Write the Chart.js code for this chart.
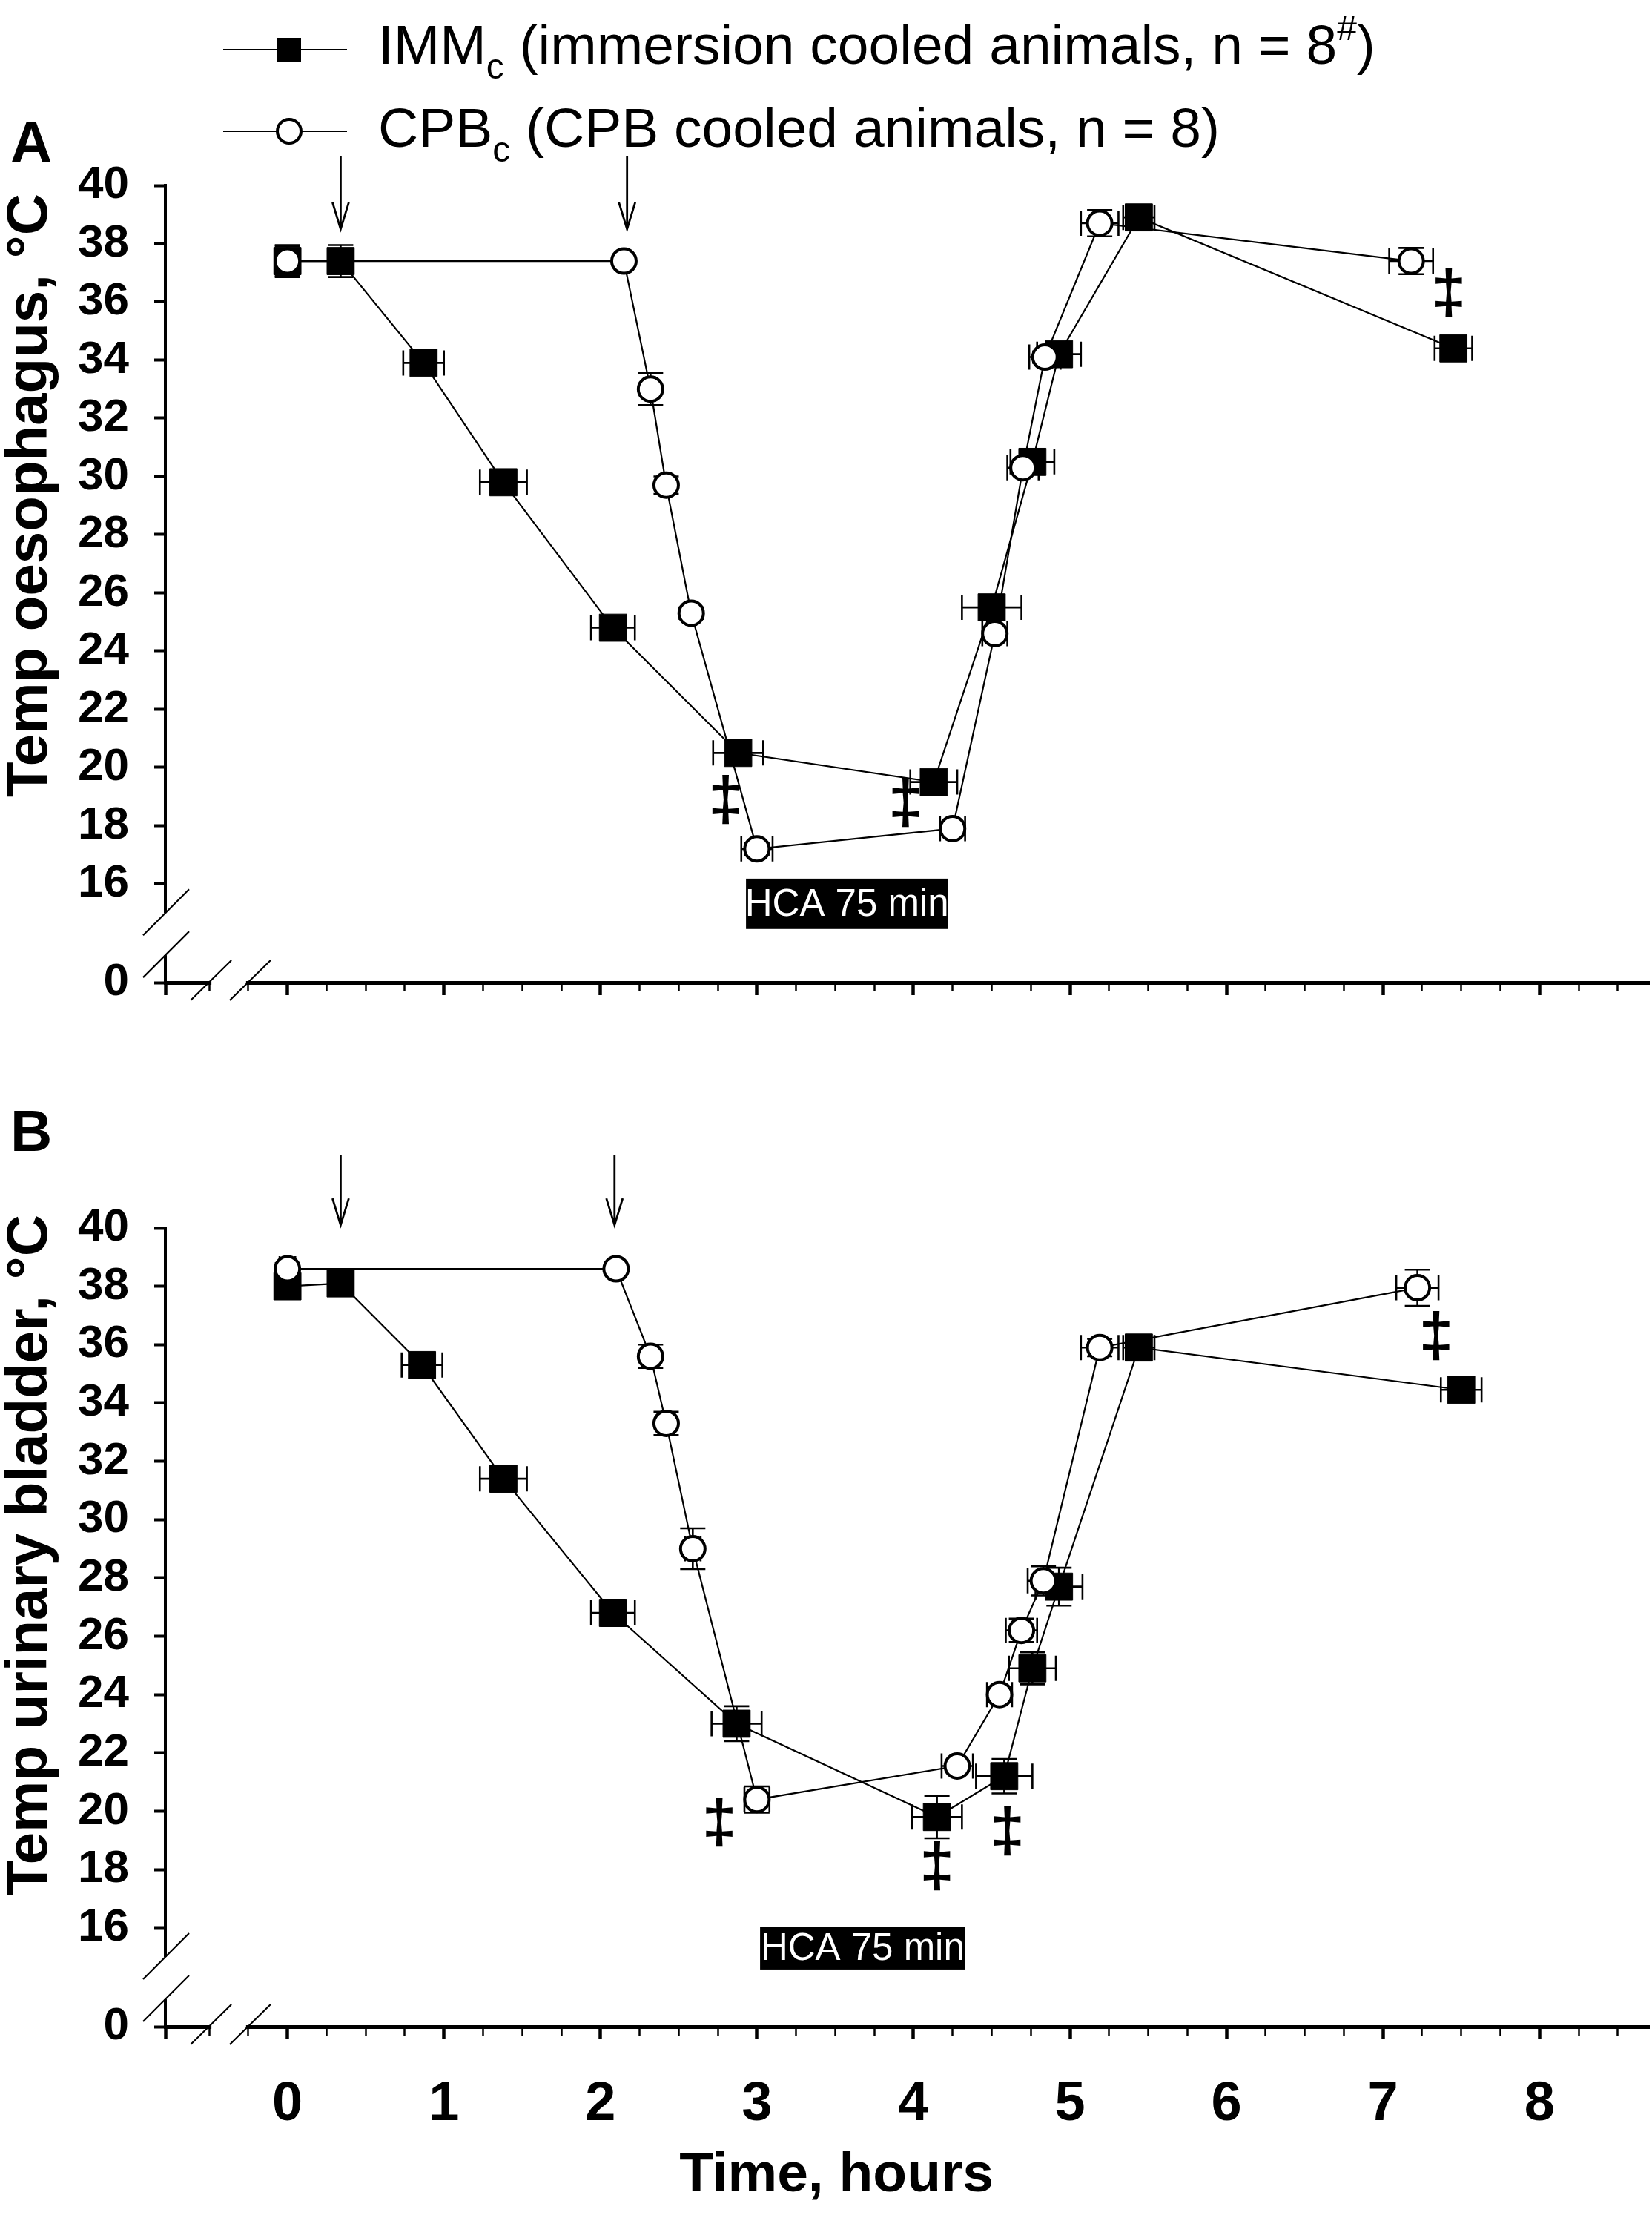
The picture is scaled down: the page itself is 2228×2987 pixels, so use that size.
<!DOCTYPE html>
<html>
<head>
<meta charset="utf-8">
<script src="https://cdn.jsdelivr.net/npm/chart.js@4.4.1/dist/chart.umd.min.js"></script>
<style>
  body { margin: 0; background: #fff; }
  canvas { position: absolute; left: 0; }
</style>
</head>
<body>
<canvas id="chartA" width="2228" height="1440" style="top:0;width:2228px;height:1440px"></canvas>
<canvas id="chartB" width="2228" height="1547" style="top:1440px;width:2228px;height:1547px"></canvas>
<script>
// # Tick labels
const xTickLabels = ["0", "1", "2", "3", "4", "5", "6", "7", "8"];
const yTickValues = [16, 18, 20, 22, 24, 26, 28, 30, 32, 34, 36, 38, 40];
const yBreakValue = 12.61; // the "0" tick sits here, below the axis break

// # Panel A - oesophagus
const timeImmA = [0, 0.34, 0.87, 1.38, 2.08, 2.88, 4.13, 4.5, 4.76, 4.93, 5.44, 7.45];
const tempImmA = [37.4, 37.4, 33.9, 29.8, 24.8, 20.5, 19.5, 25.5, 30.5, 34.2, 38.9, 34.4];
const xErrImmA = [0, 0, 0.13, 0.15, 0.14, 0.16, 0.15, 0.19, 0.14, 0.14, 0.1, 0.12];
const yErrImmA = [0.5, 0.55, 0.2, 0.2, 0.2, 0.2, 0.2, 0.2, 0.3, 0.3, 0.3, 0.2];

const timeCpbA = [0, 2.15, 2.32, 2.42, 2.58, 3.0, 4.25, 4.52, 4.7, 4.84, 5.19, 7.18];
const tempCpbA = [37.4, 37.4, 33.0, 29.7, 25.3, 17.2, 17.9, 24.6, 30.3, 34.1, 38.7, 37.4];
const xErrCpbA = [0.06, 0, 0.03, 0.03, 0.03, 0.1, 0.08, 0.08, 0.1, 0.1, 0.12, 0.14];
const yErrCpbA = [0.55, 0, 0.55, 0.3, 0.2, 0.2, 0.2, 0.2, 0.2, 0.2, 0.45, 0.45];

// # Panel B - urinary bladder
const timeImmB = [0, 0.34, 0.86, 1.38, 2.08, 2.87, 4.15, 4.58, 4.76, 4.93, 5.44, 7.5];
const tempImmB = [38.0, 38.1, 35.3, 31.4, 26.8, 23.0, 19.8, 21.2, 24.9, 27.7, 35.9, 34.45];
const xErrImmB = [0, 0, 0.13, 0.15, 0.14, 0.16, 0.16, 0.18, 0.15, 0.15, 0.1, 0.13];
const yErrImmB = [0.3, 0.3, 0.25, 0.3, 0.45, 0.6, 0.73, 0.59, 0.55, 0.65, 0.3, 0.2];

const timeCpbB = [0, 2.1, 2.32, 2.42, 2.59, 3.0, 4.28, 4.55, 4.69, 4.83, 5.19, 7.22];
const tempCpbB = [38.6, 38.6, 35.6, 33.3, 29.0, 20.4, 21.55, 24.0, 26.2, 27.9, 35.9, 37.95];
const xErrCpbB = [0.05, 0, 0.05, 0.05, 0.05, 0.08, 0.1, 0.08, 0.1, 0.1, 0.12, 0.135];
const yErrCpbB = [0.2, 0, 0.4, 0.4, 0.7, 0.45, 0.15, 0.2, 0.4, 0.5, 0.3, 0.62];

// # Annotations (in data units)
const daggersA = [[2.8, 18.78], [3.95, 18.68], [7.42, 36.2]];
const daggersB = [[2.76, 19.5], [4.15, 18.0], [4.6, 19.2], [7.34, 36.2]];
const arrowsA = [0.34, 2.17];
const arrowsB = [0.34, 2.09];

const FONT = '"Liberation Sans", Arial, sans-serif';

const toPoints = (xs, ys) => xs.map((x, i) => ({ x: x, y: ys[i] }));

// # Error bars, drawn under the markers
const drawErrorBars = (chart) => {
  const { ctx } = chart;
  const x = chart.scales.x, y = chart.scales.y;
  ctx.save();
  ctx.strokeStyle = "#000";
  ctx.lineWidth = 2.6;
  chart.data.datasets.forEach((ds) => {
    ds.data.forEach((p, i) => {
      const px = x.getPixelForValue(p.x);
      const py = y.getPixelForValue(p.y);
      const ex = ds.xErr[i], ey = ds.yErr[i];
      ctx.beginPath();
      if (ex > 0) {
        const l = x.getPixelForValue(p.x - ex), r = x.getPixelForValue(p.x + ex);
        ctx.moveTo(l, py); ctx.lineTo(r, py);
        ctx.moveTo(l, py - 17); ctx.lineTo(l, py + 17);
        ctx.moveTo(r, py - 17); ctx.lineTo(r, py + 17);
      }
      if (ey > 0) {
        const t = y.getPixelForValue(p.y + ey), b = y.getPixelForValue(p.y - ey);
        ctx.moveTo(px, t); ctx.lineTo(px, b);
        ctx.moveTo(px - 17, t); ctx.lineTo(px + 17, t);
        ctx.moveTo(px - 17, b); ctx.lineTo(px + 17, b);
      }
      ctx.stroke();
    });
  });
  ctx.restore();
};

// # Axis breaks (// marks)
const drawBreaks = (chart) => {
  const { ctx, chartArea } = chart;
  const x = chart.scales.x, y = chart.scales.y;
  const ax = chartArea.left, ay = chartArea.bottom;
  const y1 = y.getPixelForValue(15.0), y2 = y.getPixelForValue(13.55);
  const x1 = x.getPixelForValue(-0.5), x2 = x.getPixelForValue(-0.25);
  ctx.save();
  ctx.fillStyle = "#fff";
  ctx.fillRect(ax - 4, y1, 8, y2 - y1);
  ctx.fillRect(x1 + 3, ay - 4, x2 - x1 - 6, 8);
  ctx.strokeStyle = "#000";
  ctx.lineWidth = 2.2;
  ctx.beginPath();
  [y1, y2].forEach((yy) => { ctx.moveTo(ax - 30, yy + 30); ctx.lineTo(ax + 32, yy - 32); });
  [x1, x2].forEach((xx) => { ctx.moveTo(xx - 25, ay + 24); ctx.lineTo(xx + 30, ay - 30); });
  ctx.stroke();
  ctx.restore();
};

const drawArrows = (chart, xs, yFrom, yTo) => {
  const { ctx } = chart;
  const x = chart.scales.x, y = chart.scales.y;
  ctx.save();
  ctx.strokeStyle = "#000";
  ctx.lineWidth = 2.8;
  xs.forEach((v) => {
    const px = x.getPixelForValue(v);
    const top = y.getPixelForValue(yFrom), tip = y.getPixelForValue(yTo);
    ctx.beginPath();
    ctx.moveTo(px, top); ctx.lineTo(px, tip);
    ctx.moveTo(px - 11, tip - 36); ctx.lineTo(px, tip); ctx.lineTo(px + 11, tip - 36);
    ctx.stroke();
  });
  ctx.restore();
};

const drawDaggers = (chart, list) => {
  const { ctx } = chart;
  const x = chart.scales.x, y = chart.scales.y;
  ctx.save();
  ctx.fillStyle = "#000";
  ctx.font = "bold 84px " + FONT;
  ctx.textAlign = "center";
  ctx.textBaseline = "middle";
  list.forEach(([dx, dy]) => ctx.fillText("\u2021", x.getPixelForValue(dx), y.getPixelForValue(dy)));
  ctx.restore();
};

const drawHca = (chart, x0, x1, yTop, yBot) => {
  const { ctx } = chart;
  const x = chart.scales.x, y = chart.scales.y;
  const l = x.getPixelForValue(x0), r = x.getPixelForValue(x1);
  const t = y.getPixelForValue(yTop), b = y.getPixelForValue(yBot);
  ctx.save();
  ctx.fillStyle = "#000";
  ctx.fillRect(l, t, r - l, b - t);
  ctx.fillStyle = "#fff";
  ctx.font = "51px " + FONT;
  ctx.textAlign = "center";
  ctx.textBaseline = "middle";
  ctx.fillText("HCA 75 min", (l + r) / 2, (t + b) / 2 + 2);
  ctx.restore();
};

const drawText = (ctx, txt, px, py, font, align, rot) => {
  ctx.save();
  ctx.fillStyle = "#000";
  ctx.font = font;
  ctx.textAlign = align;
  ctx.textBaseline = "alphabetic";
  ctx.translate(px, py);
  if (rot) ctx.rotate(rot);
  ctx.fillText(txt, 0, 0);
  ctx.restore();
};

// # Text with subscripts / superscripts
const drawRich = (ctx, px, baseline, parts) => {
  ctx.save();
  ctx.fillStyle = "#000";
  ctx.textBaseline = "alphabetic";
  ctx.textAlign = "left";
  parts.forEach(([txt, kind]) => {
    ctx.font = (kind ? 48 : 75) + "px " + FONT;
    const dy = kind === "sub" ? 20 : kind === "sup" ? -32 : 0;
    ctx.fillText(txt, px, baseline + dy);
    px += ctx.measureText(txt).width;
  });
  ctx.restore();
};

const drawLegend = (ctx) => {
  ctx.save();
  ctx.strokeStyle = "#000";
  ctx.lineWidth = 2.2;
  ctx.beginPath();
  ctx.moveTo(301, 67); ctx.lineTo(468, 67);
  ctx.moveTo(301, 177); ctx.lineTo(468, 177);
  ctx.stroke();
  ctx.fillStyle = "#000";
  ctx.fillRect(373, 51, 33, 33);
  ctx.beginPath();
  ctx.arc(390, 177, 16, 0, Math.PI * 2);
  ctx.fillStyle = "#fff";
  ctx.fill();
  ctx.lineWidth = 4;
  ctx.stroke();
  ctx.restore();
  drawRich(ctx, 510, 86, [["IMM"], ["c", "sub"], [" (immersion cooled animals, n = 8"], ["#", "sup"], [")"]]);
  drawRich(ctx, 510, 198, [["CPB"], ["c", "sub"], [" (CPB cooled animals, n = 8)"]]);
};

// # Build one panel
const makePanel = (canvasId, panel) => {
  const xTicks = [-0.78];
  for (let v = -0.5; v <= 8.7; v += 0.25) xTicks.push(Math.round(v * 100) / 100);

  return new Chart(document.getElementById(canvasId), {
    type: "line",
    data: {
      datasets: [
        {
          label: "IMMc",
          data: toPoints(panel.timeImm, panel.tempImm),
          xErr: panel.xErrImm,
          yErr: panel.yErrImm,
          borderColor: "#000",
          borderWidth: 2.2,
          pointStyle: "rect",
          pointRadius: 26,
          pointBackgroundColor: "#000",
          pointBorderColor: "#000",
          pointBorderWidth: 1,
          tension: 0,
          order: 2,
        },
        {
          label: "CPBc",
          data: toPoints(panel.timeCpb, panel.tempCpb),
          xErr: panel.xErrCpb,
          yErr: panel.yErrCpb,
          borderColor: "#000",
          borderWidth: 2.2,
          pointStyle: "circle",
          pointRadius: 16.5,
          pointBackgroundColor: "#fff",
          pointBorderColor: "#000",
          pointBorderWidth: 4,
          tension: 0,
          order: 1,
        },
      ],
    },
    options: {
      responsive: false,
      devicePixelRatio: 1,
      animation: false,
      clip: false,
      layout: { autoPadding: false, padding: { top: panel.padTop, left: 0, right: 4, bottom: 0 } },
      plugins: { legend: { display: false }, tooltip: { enabled: false } },
      scales: {
        x: {
          type: "linear",
          min: -0.78,
          max: 8.7,
          afterBuildTicks: (s) => { s.ticks = xTicks.map((v) => ({ value: v })); },
          afterFit: (s) => {
            s.height = panel.xHeight;
            s.paddingLeft = 0;
            s.paddingRight = 0;
          },
          ticks: {
            display: panel.showX,
            autoSkip: false,
            maxRotation: 0,
            padding: 44,
            color: "#000",
            font: { family: FONT, size: 74, weight: "bold" },
            callback: (v) => {
              const i = xTickLabels.indexOf(String(v));
              return i >= 0 ? xTickLabels[i] : "";
            },
          },
          grid: {
            display: true,
            drawOnChartArea: false,
            drawTicks: true,
            tickLength: 17,
            color: "#000",
            tickColor: "#000",
            tickWidth: (c) => (Number.isInteger(c.tick.value) || c.tick.value < -0.7 ? 4.5 : 2.5),
            tickBorderDash: (c) => (Number.isInteger(c.tick.value) || c.tick.value < -0.7 ? [] : [9, 100]),
          },
          border: { display: true, color: "#000", width: 5 },
        },
        y: {
          type: "linear",
          min: yBreakValue,
          max: 40,
          afterBuildTicks: (s) => { s.ticks = [yBreakValue].concat(yTickValues).map((v) => ({ value: v })); },
          afterFit: (s) => { s.width = 223; },
          ticks: {
            autoSkip: false,
            padding: 34,
            color: "#000",
            font: { family: FONT, size: 62, weight: "bold" },
            callback: (v) => (v === yBreakValue ? "0" : String(v)),
          },
          grid: {
            display: true,
            drawOnChartArea: false,
            drawTicks: true,
            tickLength: 15,
            color: "#000",
            tickColor: "#000",
            tickWidth: 4,
          },
          border: { display: true, color: "#000", width: 4 },
        },
      },
    },
    plugins: [
      {
        id: "errorBars",
        beforeDatasetsDraw: (chart) => drawErrorBars(chart),
      },
      {
        id: "decorations",
        afterDraw: (chart) => {
          const ctx = chart.ctx;
          drawBreaks(chart);
          drawArrows(chart, panel.arrows, panel.arrowFrom, panel.arrowTo);
          drawDaggers(chart, panel.daggers);
          drawHca(chart, panel.hca[0], panel.hca[1], panel.hca[2], panel.hca[3]);
          drawText(ctx, panel.letter, 14, panel.letterY, "bold 78px " + FONT, "left");
          drawText(ctx, panel.yTitle, 63, panel.yTitleY, "bold 78px " + FONT, "center", -Math.PI / 2);
          if (panel.xTitle) drawText(ctx, panel.xTitle, 1128, 1515, "bold 75px " + FONT, "center");
          if (panel.legend) drawLegend(ctx);
        },
      },
    ],
  });
};

makePanel("chartA", {
  timeImm: timeImmA, tempImm: tempImmA, xErrImm: xErrImmA, yErrImm: yErrImmA,
  timeCpb: timeCpbA, tempCpb: tempCpbA, xErrCpb: xErrCpbA, yErrCpb: yErrCpbA,
  daggers: daggersA, arrows: arrowsA, arrowFrom: 41.0, arrowTo: 38.5,
  hca: [2.93, 4.22, 16.18, 14.45],
  padTop: 250, xHeight: 115, showX: false,
  letter: "A", letterY: 219,
  yTitle: "Temp oesophagus, \u00b0C", yTitleY: 668,
  legend: true,
});

makePanel("chartB", {
  timeImm: timeImmB, tempImm: tempImmB, xErrImm: xErrImmB, yErrImm: yErrImmB,
  timeCpb: timeCpbB, tempCpb: tempCpbB, xErrCpb: xErrCpbB, yErrCpb: yErrCpbB,
  daggers: daggersB, arrows: arrowsB, arrowFrom: 42.5, arrowTo: 40.1,
  hca: [3.02, 4.33, 16.03, 14.57],
  padTop: 216, xHeight: 254, showX: true,
  letter: "B", letterY: 112,
  yTitle: "Temp urinary bladder, \u00b0C", yTitleY: 657,
  xTitle: "Time, hours",
});
</script>
</body>
</html>
